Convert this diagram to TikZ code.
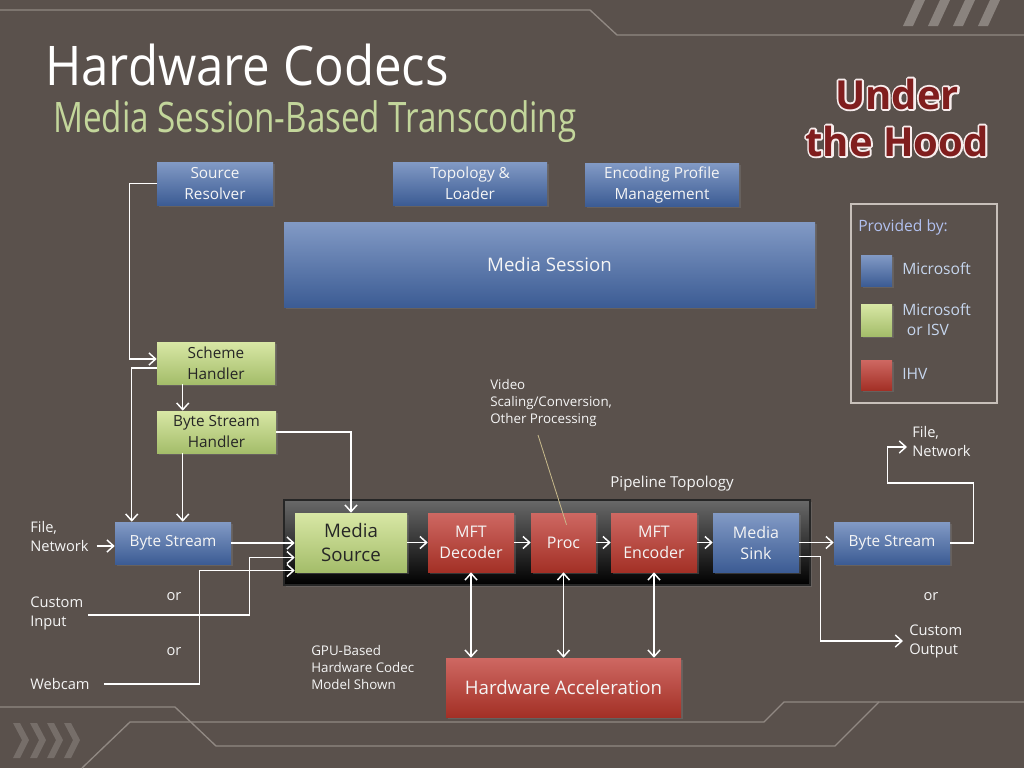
\documentclass[tikz,border=0pt]{standalone}
\usepackage{fontspec}
\setmainfont{Open Sans}
\usetikzlibrary{arrows.meta,shadows,calc}
\definecolor{bg}{RGB}{90,81,76}
\definecolor{deco}{RGB}{145,137,131}
\definecolor{stripe}{RGB}{138,131,126}
\definecolor{chev}{RGB}{118,110,105}
\definecolor{btop}{RGB}{130,154,197}
\definecolor{bbot}{RGB}{60,92,148}
\definecolor{gtop}{RGB}{216,231,165}
\definecolor{gbot}{RGB}{164,189,106}
\definecolor{rtop}{RGB}{206,104,98}
\definecolor{rbot}{RGB}{163,48,38}
\definecolor{subgreen}{RGB}{195,214,155}
\definecolor{legtxt}{RGB}{198,214,238}
\definecolor{legline}{RGB}{200,192,186}
\definecolor{hood}{RGB}{128,30,30}
\definecolor{callout}{RGB}{200,186,140}
\definecolor{txt}{RGB}{245,245,245}
\newcommand\glowtext[1]{\special{pdf:literal direct q 1 j 2.8 w 0.97 0.93 0.93 RG 1 Tr}#1\special{pdf:literal direct 0 Tr Q}}
\begin{document}
\begin{tikzpicture}[x=0.75pt,y=-0.75pt,
  >={Straight Barb[length=5pt,width=9pt]},
  sz/.style 2 args={minimum width=#1*0.75pt, minimum height=#2*0.75pt},
  box/.style={inner sep=0pt, align=center, text=txt,
    drop shadow={opacity=0.35, shadow xshift=1.5pt, shadow yshift=-1.5pt},
    font=\fontsize{11.5}{15.75}\selectfont},
  bluebox/.style={box, top color=btop, bottom color=bbot},
  greenbox/.style={box, top color=gtop, bottom color=gbot, text=black!85},
  redbox/.style={box, top color=rtop, bottom color=rbot},
  wire/.style={draw=white, line width=1.1pt},
  arr/.style={wire, ->},
  darr/.style={wire, <->},
  lbl/.style={inner sep=0pt, align=left, text=txt, font=\fontsize{11}{14.25}\selectfont},
  small/.style={inner sep=0pt, align=left, text=txt, font=\fontsize{10}{12.75}\selectfont},
  legl/.style={inner sep=0pt, align=left, text=legtxt, font=\fontsize{11.7}{15}\selectfont},
  hoodtxt/.style={anchor=base, inner sep=0pt, font=\bfseries\fontsize{30}{30}\selectfont},
  decoline/.style={draw=deco, line width=1pt}
]
\useasboundingbox (0,0) rectangle (1024,768);
\fill[bg] (0,0) rectangle (1024,768);
% decorative lines
\draw[decoline] (0,10) -- (590,10) -- (617,35) -- (1024,35);
\draw[decoline] (0,707) -- (175,707) -- (216,746) -- (835,746) -- (879,702) -- (1024,702);
\draw[decoline] (82,768) -- (130,722) -- (764,722) -- (784,702) -- (879,702);
% stripes
\foreach \sx in {903,928,953,978}{
  \fill[stripe] (\sx,26) -- (\sx+10,26) -- (\sx+22,0) -- (\sx+12,0) -- cycle;
}
% chevrons
\foreach \cx in {13,30,47,64}{
  \fill[chev] (\cx,723) -- (\cx+7,723) -- (\cx+16,740) -- (\cx+7,758) -- (\cx,758) -- (\cx+9,740) -- cycle;
}
% titles
\node[anchor=base west, inner sep=0pt, text=white, font=\fontsize{41}{41}\selectfont] (title) at (45,85) {\scalebox{0.9}[1]{Hardware Codecs}};
\node[anchor=base west, inner sep=0pt, text=subgreen, font=\fontsize{31.5}{31.5}\selectfont] (subtitle) at (53,132) {\scalebox{0.79}[1]{Media Session-Based Transcoding}};
\node[hoodtxt, text=white] (hood1g) at (897,109) {\glowtext{Under}};
\node[hoodtxt, text=hood] (hood1) at (897,109) {Under};
\node[hoodtxt, text=white] (hood2g) at (897,156) {\glowtext{the Hood}};
\node[hoodtxt, text=hood] (hood2) at (897,156) {the Hood};
% top boxes
\node[bluebox, sz={116}{43}] (sr) at (215,183.5) {Source\\Resolver};
\node[bluebox, sz={154}{43}] (tl) at (470,183.5) {Topology \&\\Loader};
\node[bluebox, sz={154}{43}] (ep) at (662,184.5) {Encoding Profile\\Management};
\node[bluebox, sz={531}{85}, font=\fontsize{14}{16}\selectfont] (msess) at (549.5,264.5) {Media Session};
% legend
\draw[draw=legline, line width=1.3pt] (851,204) rectangle (997,403);
\node[legl, anchor=west, text=legtxt!90!blue] (prov) at (858,227) {Provided by:};
\node[bluebox, sz={31}{31}] (lg1) at (876.5,270.5) {};
\node[greenbox, sz={31}{32}] (lg2) at (876.5,320) {};
\node[redbox, sz={31}{30}] (lg3) at (876.5,375) {};
\node[legl, anchor=west] (lt1) at (902,269) {Microsoft};
\node[legl, anchor=west] (lt2) at (902,320) {Microsoft\\\hspace{0.3em}or ISV};
\node[legl, anchor=west] (lt3) at (902,374) {IHV};
% handlers
\node[greenbox, sz={118}{42}] (sh) at (216,363) {Scheme\\Handler};
\node[greenbox, sz={119}{42}] (bsh) at (216.5,432) {Byte Stream\\Handler};
% pipeline
\node[sz={526}{85}, inner sep=0pt, top color={rgb,255:red,105;green,105;blue,105}, bottom color=black, draw=black!85, line width=0.8pt,
  drop shadow={opacity=0.35, shadow xshift=1.5pt, shadow yshift=-1.5pt}] (pipe) at (547,542.5) {};
\node[lbl, anchor=center, font=\fontsize{11.3}{14}\selectfont] (pipel) at (672,484) {Pipeline Topology};
\node[bluebox, sz={116}{42}] (bsl) at (173,543) {Byte Stream};
\node[greenbox, sz={112}{59}, font=\fontsize{14}{18}\selectfont] (ms) at (351,542.5) {Media\\Source};
\node[redbox, sz={86}{59}, font=\fontsize{12}{15.75}\selectfont] (dec) at (471,542.5) {MFT\\Decoder};
\node[redbox, sz={65}{59}, font=\fontsize{12}{15.75}\selectfont] (proc) at (563.5,542.5) {Proc};
\node[redbox, sz={86}{59}, font=\fontsize{12}{15.75}\selectfont] (enc) at (654,542.5) {MFT\\Encoder};
\node[bluebox, sz={86}{59}, font=\fontsize{12}{15.75}\selectfont] (snk) at (756,542.5) {Media\\Sink};
\node[bluebox, sz={116}{42}] (bsr) at (892,543) {Byte Stream};
\node[redbox, sz={235}{59}, font=\fontsize{14}{16}\selectfont] (ha) at (563.5,687.5) {Hardware Acceleration};
% labels
\node[lbl, anchor=west] (fnl) at (30,536) {File,\\Network};
\node[lbl, anchor=west] (ci) at (30,613) {Custom\\Input};
\node[lbl, anchor=west] (wc) at (30,684) {Webcam};
\node[lbl, anchor=center] (or1) at (174,597) {or};
\node[lbl, anchor=center] (or2) at (174,652) {or};
\node[lbl, anchor=center] (or3) at (931,597) {or};
\node[small, anchor=west] (gpu) at (311,667) {GPU-Based\\Hardware Codec\\Model Shown};
\node[small, anchor=west] (vid) at (490,403) {Video\\Scaling/Conversion,\\Other Processing};
\node[lbl, anchor=west] (fnr) at (912,441) {File,\\Network};
\node[lbl, anchor=west] (co) at (909,641) {Custom\\Output};
% connectors
\draw[arr] (sr.west) -- ++(-27,0) |- ($(sh.west)+(0,-4)$);
\draw[arr] ($(sh.west)+(0,5)$) -| ($(bsl.north west)+(17,0)$);
\draw[arr] ($(sh.south west)+(26,0)$) -- ($(bsh.north west)+(26,0)$);
\draw[arr] ($(bsh.south west)+(26,0)$) -- ($(bsl.north west)+(68,0)$);
\draw[arr] (bsh.east) -| (ms.north);
\draw[arr] ($(bsl.west)+(-18,3)$) -- ($(bsl.west)+(0,3)$);
\draw[arr] (bsl.east) -- (ms.west |- bsl.east);
\draw[arr] ($(ci.east)+(5,2)$) -| ($(ms.west)+(-45,15)$) -- ($(ms.west)+(0,15)$);
\draw[arr] ($(wc.east)+(14,0)$) -| ($(ms.west)+(-95,28)$) -- ($(ms.west)+(0,28)$);
\draw[arr] (ms.east) -- (dec.west);
\draw[arr] (dec.east) -- (proc.west);
\draw[arr] (proc.east) -- (enc.west);
\draw[arr] (enc.east) -- (snk.west);
\draw[arr] (snk.east) -- (bsr.west |- snk.east);
\draw[arr] ($(snk.east)+(0,14)$) -- ++(21,0) |- ($(co.west)+(-6,0)$);
\draw[arr] (bsr.east) -- ++(23,0) -- ++(0,-60) -- ++(-86,0) |- ($(fnr.west)+(-5,6)$);
\draw[darr] (dec.south) -- (dec.south |- ha.north);
\draw[darr] (proc.south) -- (proc.south |- ha.north);
\draw[darr] (enc.south) -- (enc.south |- ha.north);
\draw[draw=callout, line width=0.6pt] ($(vid.west)+(48,32)$) -- ($(proc.north)+(3,12)$);
\end{tikzpicture}
\end{document}
